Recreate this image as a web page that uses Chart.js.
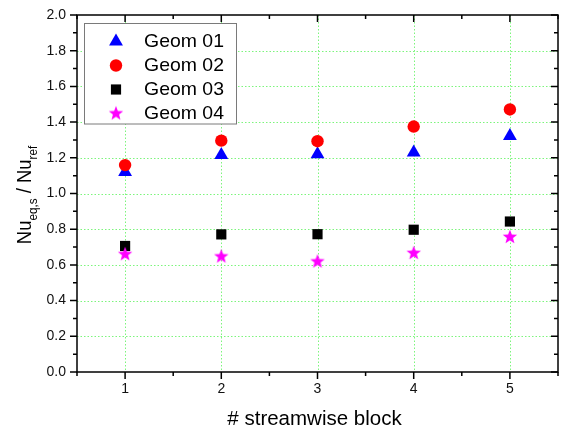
<!DOCTYPE html>
<html><head><meta charset="utf-8">
<script src="https://cdn.jsdelivr.net/npm/chart.js@4.4.0/dist/chart.umd.min.js"></script>
<style>html,body{margin:0;padding:0;background:#fff;}</style>
</head><body>
<canvas id="c" width="566" height="428" style="width:566px;height:428px;display:block"></canvas>
<script>
// ---- data ----
const blocks = [1, 2, 3, 4, 5];
const geom01 = [1.121, 1.216, 1.220, 1.229, 1.322];
const geom02 = [1.159, 1.296, 1.293, 1.375, 1.471];
const geom03 = [0.706, 0.771, 0.772, 0.797, 0.843];
const geom04 = [0.660, 0.647, 0.619, 0.666, 0.756];
const seriesNames = ['Geom 01', 'Geom 02', 'Geom 03', 'Geom 04'];
const xTitle = '# streamwise block';

// star marker
function makeStar(color, R, r) {
  const s = Math.ceil(R * 2 + 2);
  const cv = document.createElement('canvas');
  cv.width = s; cv.height = s;
  const g = cv.getContext('2d');
  g.fillStyle = color;
  g.beginPath();
  for (let i = 0; i < 10; i++) {
    const ang = -Math.PI / 2 + i * Math.PI / 5;
    const rad = i % 2 === 0 ? R : r;
    const px = s / 2 + rad * Math.cos(ang), py = s / 2 + rad * Math.sin(ang);
    i === 0 ? g.moveTo(px, py) : g.lineTo(px, py);
  }
  g.closePath(); g.fill();
  return cv;
}
const star = makeStar('#ff00ff', 7.6, 3.2);
const starSmall = star;

const pts = arr => blocks.map((b, i) => ({x: b, y: arr[i]}));

const styles = [
  {pointStyle: 'triangle', radius: 8, color: '#0000ff', order: 4},
  {pointStyle: 'circle', radius: 6.2, color: '#ff0000', order: 3},
  {pointStyle: 'rect', radius: 7.2, color: '#000000', order: 2},
  {pointStyle: star, radius: 8, color: '#ff00ff', order: 1}
];
const allSeries = [geom01, geom02, geom03, geom04];

const datasets = allSeries.map((arr, k) => ({
  label: seriesNames[k],
  data: pts(arr),
  showLine: false,
  pointStyle: styles[k].pointStyle,
  pointRadius: styles[k].radius,
  pointHoverRadius: styles[k].radius,
  pointBackgroundColor: styles[k].color,
  pointBorderColor: styles[k].color,
  pointBorderWidth: 0,
  order: styles[k].order
}));

const isInt = v => Math.abs(v - Math.round(v)) < 1e-6;
const isMajorY = v => Math.abs(v * 5 - Math.round(v * 5)) < 1e-6;

const framePlugin = {
  id: 'frame',
  beforeDatasetsDraw(chart) {
    const {ctx, chartArea: a, scales: {x, y}} = chart;
    ctx.save();
    ctx.strokeStyle = '#7cf57c';
    ctx.lineWidth = 1;
    ctx.setLineDash([1.5, 2]);
    x.ticks.forEach(t => {
      if (isInt(t.value)) {
        const px = Math.round(x.getPixelForValue(t.value)) + 0.5;
        ctx.beginPath(); ctx.moveTo(px, a.top); ctx.lineTo(px, a.bottom); ctx.stroke();
      }
    });
    y.ticks.forEach(t => {
      if (isMajorY(t.value) && t.value > 0.01 && t.value < 1.99) {
        const py = Math.round(y.getPixelForValue(t.value)) + 0.5;
        ctx.beginPath(); ctx.moveTo(a.left, py); ctx.lineTo(a.right, py); ctx.stroke();
      }
    });
    ctx.restore();
  },
  afterDatasetsDraw(chart) {
    const {ctx, chartArea: a, scales: {x, y}} = chart;
    ctx.save();
    ctx.strokeStyle = '#000';
    ctx.lineWidth = 1.5;
    ctx.setLineDash([]);
    // ticks
    x.ticks.forEach(t => {
      const px = x.getPixelForValue(t.value);
      const L = isInt(t.value) ? 7 : 4;
      ctx.beginPath();
      ctx.moveTo(px, a.bottom); ctx.lineTo(px, a.bottom + L);
      ctx.moveTo(px, a.top); ctx.lineTo(px, a.top + L);
      ctx.stroke();
    });
    y.ticks.forEach(t => {
      const py = y.getPixelForValue(t.value);
      const L = isMajorY(t.value) ? 7 : 4;
      ctx.beginPath();
      ctx.moveTo(a.left - L, py); ctx.lineTo(a.left, py);
      ctx.moveTo(a.right - L, py); ctx.lineTo(a.right, py);
      ctx.stroke();
    });
    ctx.strokeRect(a.left, a.top, a.right - a.left, a.bottom - a.top);
    ctx.restore();

    // legend
    ctx.save();
    const bx = 84.5, by = 23.5, bw = 152, bh = 100.5;
    ctx.fillStyle = '#fff';
    ctx.fillRect(bx, by, bw, bh);
    ctx.strokeStyle = '#7a7a7a';
    ctx.lineWidth = 1;
    ctx.strokeRect(bx, by, bw, bh);
    const rows = [41.5, 65.5, 89.5, 113.5];
    chart.data.datasets.forEach((ds, k) => {
      ctx.fillStyle = styles[k].color;
      ctx.strokeStyle = styles[k].color;
      Chart.helpers.drawPoint(ctx, {pointStyle: styles[k].pointStyle, radius: styles[k].radius, borderWidth: 0, rotation: 0}, 116, rows[k]);
      ctx.save();
      ctx.fillStyle = '#000';
      ctx.font = '18.6px "Liberation Sans", Arial, sans-serif';
      ctx.textBaseline = 'middle';
      ctx.translate(144, rows[k] + 0.5);
      ctx.scale(1.046, 1);
      ctx.fillText(ds.label, 0, 0);
      ctx.restore();
    });
    ctx.restore();

    // x title
    ctx.save();
    ctx.fillStyle = '#000';
    ctx.font = '20.5px "Liberation Sans", Arial, sans-serif';
    ctx.textAlign = 'center';
    ctx.textBaseline = 'alphabetic';
    ctx.fillText(xTitle, (a.left + a.right) / 2 - 3, 425);
    ctx.restore();

    // y title with subscripts
    ctx.save();
    ctx.fillStyle = '#000';
    ctx.translate(30.5, 195);
    ctx.rotate(-Math.PI / 2);
    ctx.scale(0.9, 1);
    const mainF = '20.5px "Liberation Sans", Arial, sans-serif';
    const subF = '13px "Liberation Sans", Arial, sans-serif';
    const parts = [
      {t: 'Nu', f: mainF, dy: 0},
      {t: 'eq,s', f: subF, dy: 6.5},
      {t: ' / ', f: mainF, dy: 0},
      {t: 'Nu', f: mainF, dy: 0},
      {t: 'ref', f: subF, dy: 6.5}
    ];
    let total = 0;
    parts.forEach(p => { ctx.font = p.f; p.w = ctx.measureText(p.t).width; total += p.w; });
    let cx = -total / 2;
    ctx.textBaseline = 'alphabetic';
    parts.forEach(p => { ctx.font = p.f; ctx.fillText(p.t, cx, p.dy); cx += p.w; });
    ctx.restore();
  }
};

new Chart(document.getElementById('c'), {
  type: 'scatter',
  data: {datasets},
  options: {
    responsive: false,
    devicePixelRatio: 1,
    animation: false,
    layout: {padding: {left: 0, right: 6, top: 15, bottom: 0}},
    plugins: {legend: {display: false}, tooltip: {enabled: false}},
    scales: {
      x: {
        type: 'linear', min: 0.5, max: 5.5,
        afterFit: s => { s.height = 56; },
        grid: {display: true, drawOnChartArea: false, drawTicks: true, tickLength: 7, tickColor: 'rgba(0,0,0,0)'},
        border: {display: false},
        ticks: {
          stepSize: 0.5, autoSkip: false, maxRotation: 0, padding: 2,
          color: '#111', font: {family: '"Liberation Sans", Arial, sans-serif', size: 14},
          callback: v => isInt(v) ? String(Math.round(v)) : ''
        }
      },
      y: {
        type: 'linear', min: 0, max: 2,
        afterFit: s => { s.width = 77; },
        grid: {display: true, drawOnChartArea: false, drawTicks: true, tickLength: 7, tickColor: 'rgba(0,0,0,0)'},
        border: {display: false},
        ticks: {
          stepSize: 0.1, autoSkip: false, padding: 4,
          color: '#111', font: {family: '"Liberation Sans", Arial, sans-serif', size: 14},
          callback: v => isMajorY(v) ? (Math.round(v * 10) / 10).toFixed(1) : ''
        }
      }
    }
  },
  plugins: [framePlugin]
});
</script>
</body></html>
